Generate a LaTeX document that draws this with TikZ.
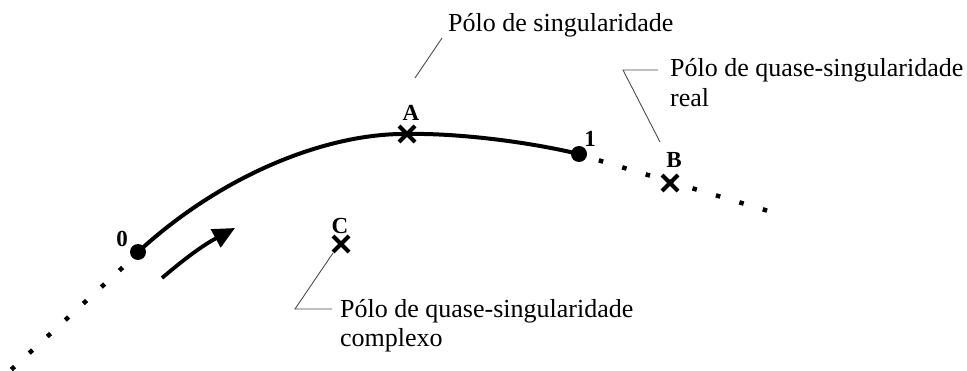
\documentclass[tikz,border=0pt]{standalone}
\usepackage{fontspec}
\setmainfont{Liberation Serif}
\usetikzlibrary{arrows.meta,calc,shapes.misc}
\begin{document}
\begin{tikzpicture}[x=1pt,y=-1pt,
  lbl/.style={font=\fontsize{26}{29}\selectfont, inner sep=0pt, anchor=base west},
  ptlbl/.style={font=\fontsize{23}{26}\selectfont\bfseries, inner sep=0pt},
  leader/.style={draw=black!70, line width=0.9pt},
  crossmark/.style={cross out, draw, line width=4pt, minimum size=12pt, inner sep=0pt},
  endpt/.style={circle, fill=black, inner sep=0pt, minimum size=16pt},
  dotline/.style={line width=4.5pt, dash pattern=on 4.5pt off 19.94pt},
  ]
\useasboundingbox (0,0) rectangle (967,371);

% end points and poles
\node[endpt] (p0) at (138,252) {};
\node[endpt] (p1) at (579,154) {};
\node[crossmark] (A) at (407,134) {};
\node[crossmark] (B) at (670,183) {};
\node[crossmark] (C) at (341,244) {};

% main path
\draw[line width=4pt] (p0.center) .. controls (225,172) and (330,133) .. (A.center)
      .. controls (450,133) and (520,140) .. (p1.center);

% dotted extensions
\coordinate (d1s) at (601,161);
\coordinate (d1e) at (765,210);
\draw[dotline] ($(d1s)!-2.25pt!(d1e)$) -- ($(d1e)!-2.25pt!(d1s)$);
\coordinate (d2s) at (121,269);
\coordinate (d2e) at (13,368);
\draw[dotline] ($(d2s)!-2.25pt!(d2e)$) -- ($(d2e)!-2.25pt!(d2s)$);

% direction arrow
\coordinate (arrs) at (162,278);
\coordinate (arre) at (235,228);
\draw[line width=3.8pt, -{Triangle[length=22pt,width=20pt]}] (arrs) to[bend left=6] (arre);

% point labels
\node[ptlbl] (lA) at (411,113) {A};
\node[ptlbl] (l1) at (590,139) {1};
\node[ptlbl] (lB) at (674,160) {B};
\node[ptlbl] (lC) at (340,226) {C};
\node[ptlbl] (l0) at (122,239) {0};

% text labels
\node[lbl] (ls) at (448,32) {Pólo de singularidade};
\node[lbl] (lr1) at (670,77) {Pólo de quase-singularidade};
\node[lbl] (lr2) at (670,107) {real};
\node[lbl] (lc1) at (340,318) {Pólo de quase-singularidade};
\node[lbl] (lc2) at (340,347) {complexo};

% leader lines
\coordinate (s1) at (442,38);
\coordinate (s2) at (415,78);
\draw[leader] (s1) -- (s2);
\coordinate (r1) at (658,70);
\coordinate (r2) at (623,70);
\coordinate (r3) at (660,142);
\draw[leader] (r1) -- (r2) -- (r3);
\coordinate (c1) at (333,253);
\coordinate (c2) at (295,309);
\coordinate (c3) at (332,309);
\draw[leader] (c1) -- (c2) -- (c3);
\end{tikzpicture}
\end{document}
